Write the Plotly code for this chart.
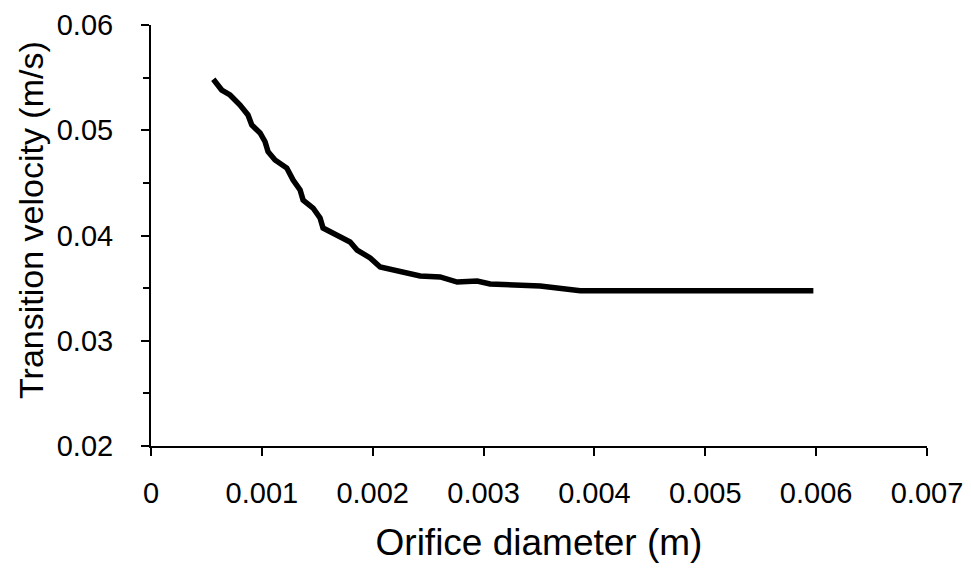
import plotly.graph_objects as go

# orifice diameter (m) vs transition velocity (m/s)
diameter = [0.000562, 0.000638, 0.000713, 0.000803, 0.000875, 0.000909, 0.000984,
            0.001029, 0.001056, 0.001119, 0.001225, 0.001282, 0.001345, 0.001372,
            0.001462, 0.001525, 0.001552, 0.001706, 0.001796, 0.001859, 0.001977,
            0.002067, 0.002247, 0.002428, 0.002608, 0.002762, 0.002942, 0.003059,
            0.003511, 0.003691, 0.003872, 0.004500, 0.005200, 0.005975]
velocity = [0.05484, 0.05382, 0.05335, 0.05240, 0.05145, 0.05050, 0.04974,
            0.04891, 0.04796, 0.04717, 0.04641, 0.04527, 0.04432, 0.04337,
            0.04261, 0.04166, 0.04071, 0.03986, 0.03938, 0.03862, 0.03786,
            0.03701, 0.03653, 0.03615, 0.03606, 0.03558, 0.03568, 0.03539,
            0.03520, 0.03492, 0.03476, 0.03476, 0.03476, 0.03476]

x_ticks = [0, 0.001, 0.002, 0.003, 0.004, 0.005, 0.006, 0.007]
x_labels = ["0", "0.001", "0.002", "0.003", "0.004", "0.005", "0.006", "0.007"]
y_ticks = [0.02, 0.03, 0.04, 0.05, 0.06]
y_labels = ["0.02", "0.03", "0.04", "0.05", "0.06"]

fig = go.Figure()
fig.add_trace(go.Scatter(x=diameter, y=velocity, mode="lines",
                         line=dict(color="black", width=5.5)))

fig.update_layout(
    width=971, height=569,
    margin=dict(l=151, r=44, t=25, b=123),
    plot_bgcolor="white", paper_bgcolor="white",
    showlegend=False,
    font=dict(family="Liberation Sans, Arial, sans-serif", color="black", size=29),
)
fig.update_xaxes(
    range=[0, 0.007], tickvals=x_ticks, ticktext=x_labels, automargin=False,
    showline=True, linecolor="black", linewidth=2, showgrid=False, zeroline=False,
    ticks="outside", ticklen=8, tickwidth=2, tickcolor="black",
    ticklabelstandoff=12,
    tickfont=dict(size=29),
    title=dict(text="Orifice diameter (m)", font=dict(size=37), standoff=21),
)
fig.update_yaxes(
    range=[0.02, 0.06], tickvals=y_ticks, ticktext=y_labels, automargin=False,
    showline=True, linecolor="black", linewidth=2, showgrid=False, zeroline=False,
    ticks="outside", ticklen=8, tickwidth=2, tickcolor="black",
    ticklabelstandoff=22,
    minor=dict(dtick=0.005, ticks="outside", ticklen=6, tickwidth=2, tickcolor="black", showgrid=False),
    tickfont=dict(size=29),
)

# y title sits a bit above the plot centre, as in the original
fig.add_annotation(text="Transition velocity (m/s)", textangle=-90,
                   xref="paper", yref="paper", x=-0.1546, y=0.537,
                   xanchor="center", yanchor="middle", showarrow=False,
                   font=dict(size=34))

fig.write_html("out.html", config={"displayModeBar": False},
               post_script="document.body.style.margin='0';")
